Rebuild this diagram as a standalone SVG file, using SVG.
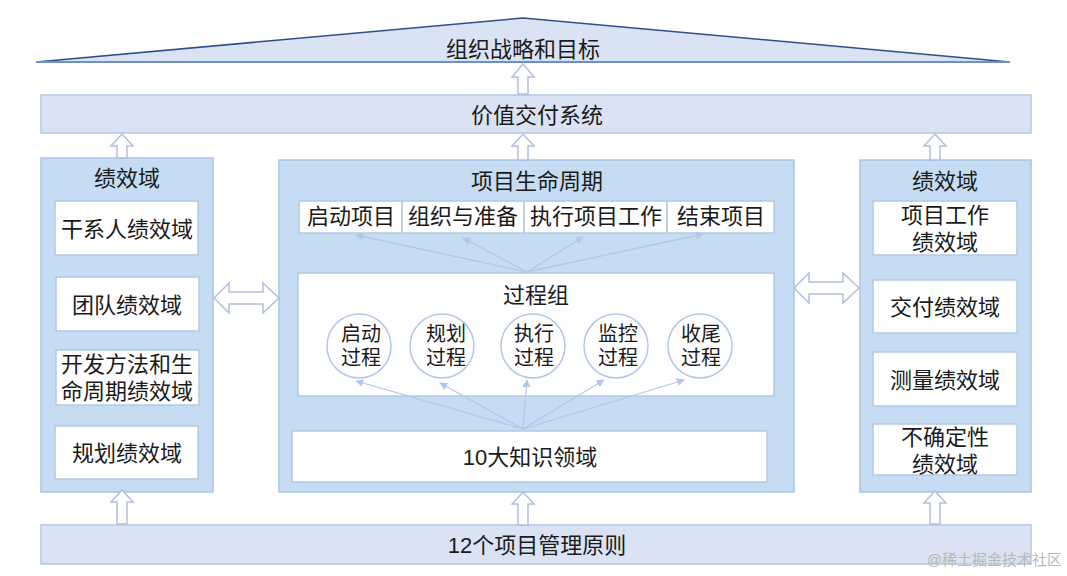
<svg xmlns="http://www.w3.org/2000/svg" width="1067" height="576" viewBox="0 0 1067 576">
<defs>
<style>
text{font-family:"Liberation Sans","Noto Sans CJK SC",sans-serif;fill:#1a1a1a;text-anchor:middle;dominant-baseline:central}
.bar{fill:#dae3f3;stroke:#b4c7e7;stroke-width:1.5}
.panel{fill:#c5dcf2;stroke:#a9c4e6;stroke-width:1.5}
.box{fill:#ffffff;stroke:#b4c7e7;stroke-width:1.5}
.hol{fill:#ffffff;stroke:#b4bde0;stroke-width:1.5;stroke-linejoin:miter}
.t20{font-size:22px}
.t21{font-size:22px}
.t18{font-size:20px}
.ln{stroke:#b4c7e7;stroke-width:1.3;fill:none;marker-end:url(#ah)}
</style>
<marker id="ah" viewBox="0 0 10 10" refX="9" refY="5" markerWidth="8" markerHeight="8" markerUnits="userSpaceOnUse" orient="auto">
<path d="M0,0 L10,5 L0,10 Z" fill="#b4c7e7"/>
</marker>
</defs>

<g id="roof">
<path d="M36,62 L523,18 L1010,62 Z" fill="#dae3f3" stroke="none"/>
<path d="M36,62 L523,18 L1010,62" fill="none" stroke="#2f4f8a" stroke-width="1.5"/>
<line x1="36" y1="62" x2="1010" y2="62" stroke="#6f8fc7" stroke-width="2"/>
<text class="t20" x="523" y="49">组织战略和目标</text>
</g>

<g id="value">
<rect class="bar" x="41" y="95" width="990" height="38"/>
<text class="t20" x="537" y="115">价值交付系统</text>
</g>

<g id="principles">
<rect class="bar" x="41" y="525" width="990" height="39"/>
<text class="t20" x="537" y="545">12个项目管理原则</text>
</g>

<g id="left">
<rect class="panel" x="41" y="158" width="172" height="334"/>
<text class="t20" x="127" y="178">绩效域</text>
<rect class="box" x="55" y="201" width="143" height="54"/>
<text class="t21" x="127" y="229">干系人绩效域</text>
<rect class="box" x="56" y="277" width="143" height="54"/>
<text class="t21" x="127" y="305">团队绩效域</text>
<rect class="box" x="56" y="350" width="143" height="55"/>
<text class="t21" x="127" y="364">开发方法和生<tspan x="127" dy="27">命周期绩效域</tspan></text>
<rect class="box" x="55" y="426" width="143" height="53"/>
<text class="t21" x="127" y="453">规划绩效域</text>
</g>

<g id="center">
<rect class="panel" x="279" y="160" width="515" height="332"/>
<text class="t20" x="537" y="181">项目生命周期</text>
<rect class="box" x="299" y="201" width="103" height="32"/>
<rect class="box" x="402" y="201" width="122" height="32"/>
<rect class="box" x="524" y="201" width="143" height="32"/>
<rect class="box" x="667" y="201" width="107" height="32"/>
<text class="t20" x="351" y="216">启动项目</text>
<text class="t20" x="463" y="216">组织与准备</text>
<text class="t20" x="596" y="216">执行项目工作</text>
<text class="t20" x="721" y="216">结束项目</text>
<rect class="box" x="298" y="273" width="476" height="123"/>
<text class="t20" x="536" y="295">过程组</text>
<g id="c1"><circle class="box" cx="359" cy="346" r="32"/><text class="t18" x="361" y="334">启动<tspan x="361" dy="24">过程</tspan></text></g>
<g id="c2"><circle class="box" cx="442" cy="346" r="32"/><text class="t18" x="446" y="334">规划<tspan x="446" dy="24">过程</tspan></text></g>
<g id="c3"><circle class="box" cx="533" cy="346" r="32"/><text class="t18" x="534" y="334">执行<tspan x="534" dy="24">过程</tspan></text></g>
<g id="c4"><circle class="box" cx="616" cy="346" r="32"/><text class="t18" x="618" y="334">监控<tspan x="618" dy="24">过程</tspan></text></g>
<g id="c5"><circle class="box" cx="700" cy="346" r="32"/><text class="t18" x="701" y="334">收尾<tspan x="701" dy="24">过程</tspan></text></g>
<rect class="box" x="292" y="431" width="475" height="51"/>
<text class="t20" x="530" y="457">10大知识领域</text>
</g>

<g id="right">
<rect class="panel" x="860" y="160" width="171" height="332"/>
<text class="t20" x="945" y="181">绩效域</text>
<rect class="box" x="873" y="201" width="144" height="54"/>
<text class="t21" x="945" y="215">项目工作<tspan x="945" dy="27">绩效域</tspan></text>
<rect class="box" x="873" y="280" width="144" height="53"/>
<text class="t21" x="945" y="307">交付绩效域</text>
<rect class="box" x="873" y="352" width="144" height="54"/>
<text class="t21" x="945" y="380">测量绩效域</text>
<rect class="box" x="873" y="424" width="144" height="51"/>
<text class="t21" x="945" y="437">不确定性<tspan x="945" dy="27">绩效域</tspan></text>
</g>

<g id="connectors">
<path class="ln" d="M527,272 L356,235"/>
<path class="ln" d="M527,272 L463,238"/>
<path class="ln" d="M527,272 L583,237"/>
<path class="ln" d="M527,272 L703,234"/>
<path class="ln" d="M523,429 L356,381"/>
<path class="ln" d="M523,429 L440,383"/>
<path class="ln" d="M523,429 L527,380"/>
<path class="ln" d="M523,429 L604,380"/>
<path class="ln" d="M523,429 L684,380"/>
<path class="hol" d="M523,64 L534,77 L528,77 L528,94 L518,94 L518,77 L512,77 Z"/>
<path class="hol" d="M122,134 L133,146 L127,146 L127,158 L117,158 L117,146 L111,146 Z"/>
<path class="hol" d="M523,134 L534,146 L528,146 L528,160 L518,160 L518,146 L512,146 Z"/>
<path class="hol" d="M935,134 L946,146 L940,146 L940,160 L930,160 L930,146 L924,146 Z"/>
<path class="hol" d="M122,490 L133,502 L127,502 L127,524 L117,524 L117,502 L111,502 Z"/>
<path class="hol" d="M523,492 L534,504 L528,504 L528,525 L518,525 L518,504 L512,504 Z"/>
<path class="hol" d="M935,491 L946,503 L940,503 L940,524 L930,524 L930,503 L924,503 Z"/>
<path class="hol" d="M214,298 L229,283 L229,292 L263,292 L263,283 L279,298 L263,313 L263,304 L229,304 L229,313 Z"/>
<path class="hol" d="M794,288 L809,273 L809,282 L843,282 L843,273 L859,288 L843,303 L843,294 L809,294 L809,303 Z"/>
</g>

<text x="1062" y="559" style="font-size:15px;fill:#b8b8b8;text-anchor:end">@稀土掘金技术社区</text>
</svg>
